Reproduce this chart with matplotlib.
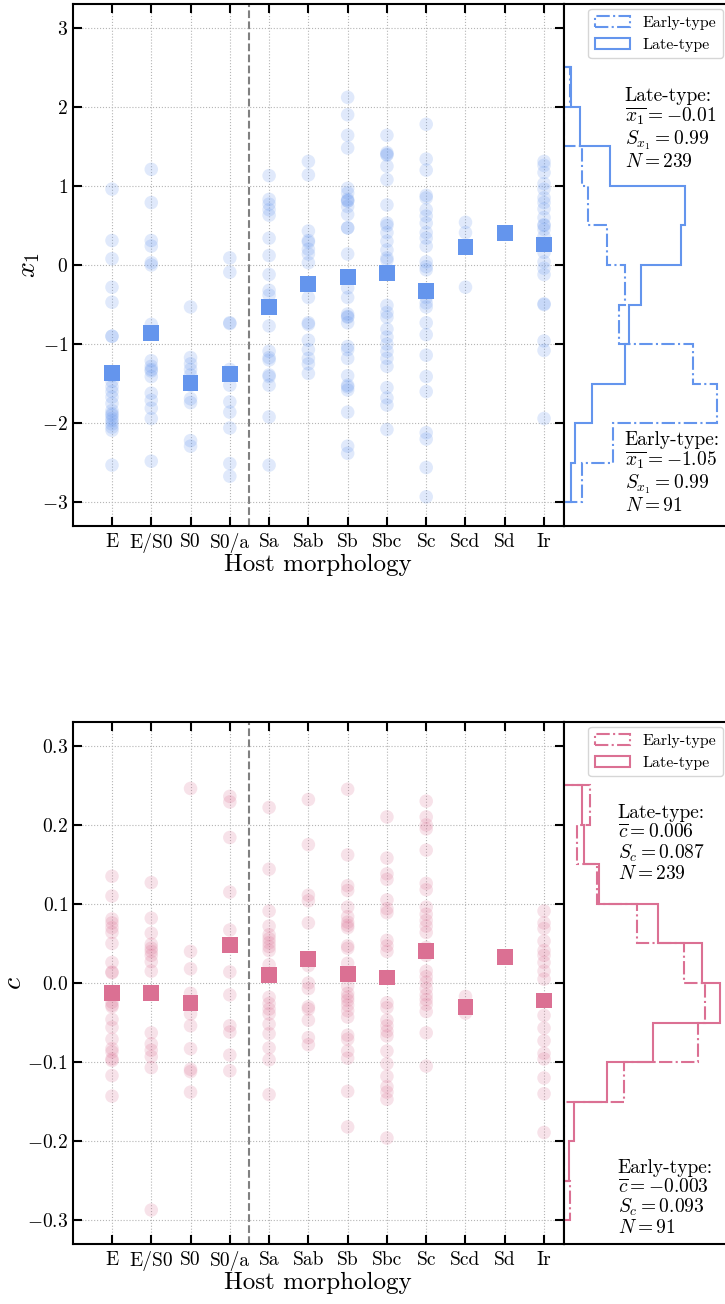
import matplotlib
matplotlib.use("Agg")
import matplotlib.pyplot as plt
import numpy as np

plt.rcParams['font.family'] = 'serif'
plt.rcParams['font.serif'] = ['cmr10', 'DejaVu Serif']
plt.rcParams['mathtext.fontset'] = 'cm'
plt.rcParams['axes.formatter.use_mathtext'] = True
plt.rcParams['axes.unicode_minus'] = True

# host morphology classes
morph = ['E', 'E/S0', 'S0', 'S0/a', 'Sa', 'Sab', 'Sb', 'Sbc', 'Sc', 'Scd', 'Sd', 'Ir']

# x1 per class
x1_vals = [
    [0.96, 0.31, 0.08, -0.28, -0.47, -0.90, -0.90, -1.35, -1.40, -1.47, -1.54, -1.60, -1.67, -1.75,
     -1.84, -1.88, -1.90, -1.94, -1.97, -2.01, -2.05, -2.09, -2.53],
    [1.21, 0.79, 0.31, 0.24, 0.03, 0.0, -0.75, -1.21, -1.28, -1.32, -1.34, -1.41, -1.62, -1.71, -1.81,
     -1.94, -2.48],
    [-0.53, -1.17, -1.25, -1.32, -1.39, -1.49, -1.52, -1.69, -1.74, -2.22, -2.29],
    [0.09, -0.09, -0.73, -0.74, -1.32, -1.38, -1.52, -1.73, -1.86, -2.06, -2.51, -2.67],
    [1.13, 0.83, 0.77, 0.70, 0.63, 0.34, 0.12, -0.12, -0.32, -0.38, -0.53, -0.77, -1.09, -1.17, -1.20,
     -1.39, -1.41, -1.52, -1.92, -2.53],
    [1.31, 1.14, 0.43, 0.31, 0.29, 0.20, 0.14, 0.03, -0.24, -0.41, -0.73, -0.75, -0.95, -1.07, -1.18,
     -1.25, -1.37],
    [2.12, 1.90, 1.64, 1.48, 0.97, 0.91, 0.83, 0.81, 0.81, 0.74, 0.64, 0.47, 0.47, 0.14, -0.15, -0.29,
     -0.41, -0.62, -0.65, -0.66, -0.73, -1.03, -1.07, -1.18, -1.40, -1.52, -1.54, -1.58, -1.86, -2.29, -2.38],
    [1.64, 1.42, 1.39, 1.40, 1.25, 1.08, 0.76, 0.53, 0.50, 0.41, 0.30, 0.19, 0.09, 0.06, -0.10, -0.51,
     -0.60, -0.66, -0.81, -0.91, -1.00, -1.09, -1.18, -1.28, -1.55, -1.68, -1.77, -2.08],
    [1.78, 1.34, 1.20, 0.88, 0.85, 0.70, 0.62, 0.53, 0.41, 0.34, 0.24, 0.04, -0.02, -0.06, -0.33, -0.41,
     -0.48, -0.53, -0.73, -0.88, -1.14, -1.41, -1.60, -2.12, -2.20, -2.56, -2.93],
    [0.54, 0.41, -0.28],
    [0.41],
    [1.31, 1.26, 1.17, 1.03, 0.96, 0.85, 0.79, 0.71, 0.60, 0.51, 0.50, 0.45, 0.36, 0.16, 0.04, -0.04,
     -0.12, -0.49, -0.50, -0.96, -1.08, -1.94],
]
x1_mean = [-1.37, -0.86, -1.49, -1.38, -0.53, -0.24, -0.15, -0.10, -0.33, 0.23, 0.41, 0.26]

# colour c per class
c_vals = [
    [0.135, 0.110, 0.081, 0.076, 0.070, 0.064, 0.050, 0.026, 0.014, 0.013, -0.013, -0.024, -0.028,
     -0.030, -0.046, -0.056, -0.071, -0.083, -0.087, -0.096, -0.098, -0.117, -0.143],
    [0.127, 0.082, 0.063, 0.049, 0.044, 0.040, 0.035, 0.027, 0.015, -0.013, -0.063, -0.077, -0.085,
     -0.093, -0.107, -0.287],
    [0.246, 0.040, 0.018, -0.013, -0.025, -0.039, -0.054, -0.083, -0.109, -0.112, -0.138],
    [0.236, 0.229, 0.184, 0.115, 0.067, 0.048, 0.014, -0.015, -0.054, -0.062, -0.091, -0.111],
    [0.222, 0.144, 0.091, 0.072, 0.061, 0.056, 0.051, 0.046, 0.041, 0.023, 0.010, -0.018, -0.026,
     -0.033, -0.039, -0.052, -0.064, -0.082, -0.097, -0.141],
    [0.232, 0.175, 0.111, 0.104, 0.076, 0.030, 0.022, 0.000, -0.007, -0.030, -0.033, -0.047, -0.069,
     -0.078],
    [0.245, 0.162, 0.123, 0.117, 0.096, 0.084, 0.077, 0.073, 0.070, 0.047, 0.044, 0.025, 0.011, -0.004,
     -0.013, -0.018, -0.022, -0.028, -0.035, -0.043, -0.066, -0.071, -0.086, -0.095, -0.137, -0.182],
    [0.210, 0.158, 0.138, 0.131, 0.105, 0.094, 0.089, 0.054, 0.047, 0.040, 0.007, -0.025, -0.031,
     -0.047, -0.054, -0.061, -0.067, -0.086, -0.102, -0.118, -0.131, -0.138, -0.147, -0.196],
    [0.230, 0.210, 0.200, 0.195, 0.168, 0.126, 0.118, 0.096, 0.087, 0.079, 0.072, 0.064, 0.045, 0.035,
     0.015, 0.008, 0.001, -0.007, -0.015, -0.021, -0.027, -0.036, -0.063, -0.105],
    [-0.017, -0.030, -0.038],
    [0.033],
    [0.091, 0.076, 0.069, 0.053, 0.041, 0.035, 0.026, 0.015, 0.005, -0.022, -0.041, -0.057, -0.073,
     -0.089, -0.096, -0.120, -0.140, -0.189],
]
c_mean = [-0.013, -0.013, -0.025, 0.048, 0.010, 0.030, 0.011, 0.007, 0.040, -0.030, 0.033, -0.022]

# histogram counts (bottom bin first)
x1_edges = np.linspace(-3.0, 2.5, 12)
x1_late_counts = [3, 5, 12, 26, 28, 33, 50, 52, 20, 7, 3]
x1_early_counts = [3, 8, 25, 21, 9, 10, 7, 4, 3, 0, 1]
c_edges = np.linspace(-0.3, 0.25, 12)
c_late_counts = [0, 2, 4, 17, 35, 61, 54, 37, 14, 8, 7]
c_early_counts = [1, 0, 0, 9, 20, 21, 18, 11, 5, 2, 4]

x1_text_late = 'Late-type:\n$\\overline{x_1} = -0.01$\n$S_{x_1} = 0.99$\n$N = 239$'
x1_text_early = 'Early-type:\n$\\overline{x_1} = -1.05$\n$S_{x_1} = 0.99$\n$N = 91$'
c_text_late = 'Late-type:\n$\\overline{c} = 0.006$\n$S_c = 0.087$\n$N = 239$'
c_text_early = 'Early-type:\n$\\overline{c} = -0.003$\n$S_c = 0.093$\n$N = 91$'

fig = plt.figure(figsize=(7.25, 13.04), dpi=100)


def panel(bottom, vals, means, col, ylim, yticks, ylabel, edges, late, early, hxlim,
          txt_late, txt_early, ty_late, ty_early, tx):
    ax = fig.add_axes([0.1003, bottom, 0.6772, 0.4003])
    ah = fig.add_axes([0.7774, bottom, 0.2414, 0.4003], sharey=ax)
    for i, v in enumerate(vals):
        ax.scatter(np.full(len(v), i), v, s=95, color=col, alpha=0.2, edgecolors='none', zorder=2)
    ax.scatter(np.arange(len(means)), means, marker='s', s=130, color=col, edgecolors='none', zorder=3)
    ax.axvline(3.5, color='gray', ls='--', lw=1.5, zorder=1)
    ax.set_xlim(-1, 11.5)
    ax.set_ylim(ylim)
    ax.set_yticks(yticks)
    ax.set_xticks(np.arange(len(morph)))
    ax.set_xticklabels(morph)
    ax.grid(True, ls=':', color='#b5b5b5', lw=0.8, zorder=0)
    ax.tick_params(direction='in', top=True, right=True, length=6.5, width=1.5, labelsize=14)
    ax.tick_params(axis='x', pad=5)
    ax.set_xlabel('Host morphology', fontsize=18, labelpad=1)
    ax.set_ylabel(ylabel, fontsize=20, labelpad=0)
    for s in ax.spines.values():
        s.set_linewidth(1.5)

    centers = 0.5 * (edges[:-1] + edges[1:])
    ah.hist(centers, bins=edges, weights=early, density=True, histtype='step',
            orientation='horizontal', color=col, ls='-.', lw=1.5, label='Early-type')
    ah.hist(centers, bins=edges, weights=late, density=True, histtype='step',
            orientation='horizontal', color=col, ls='-', lw=1.5, label='Late-type')
    ah.set_xlim(0, hxlim)
    ah.tick_params(left=False, labelleft=False, bottom=False, labelbottom=False)
    for s in ah.spines.values():
        s.set_linewidth(1.5)
    ah.legend(loc='upper right', bbox_to_anchor=(0.997, bottom + 0.4003 - 0.004),
              bbox_transform=fig.transFigure, borderaxespad=0, fontsize=11.5,
              handlelength=2.2, framealpha=0.8)
    ah.text(tx, ty_late, txt_late, transform=ah.get_yaxis_transform(), fontsize=14,
            va='top', ha='left', linespacing=1.05)
    ah.text(tx, ty_early, txt_early, transform=ah.get_yaxis_transform(), fontsize=14,
            va='top', ha='left', linespacing=1.05)
    return ax


panel(0.5966, x1_vals, x1_mean, '#6495ED', (-3.3, 3.3), np.arange(-3, 4, 1), '$x_1$',
      x1_edges, x1_late_counts, x1_early_counts, 0.625,
      x1_text_late, x1_text_early, 2.25, -2.1, 0.35)
panel(0.0460, c_vals, c_mean, '#DB7093', (-0.33, 0.33), np.round(np.arange(-0.3, 0.31, 0.1), 1), '$c$',
      c_edges, c_late_counts, c_early_counts, 5.73,
      c_text_late, c_text_early, 0.226, -0.222, 0.31)

fig.savefig('out.png', dpi=100)
